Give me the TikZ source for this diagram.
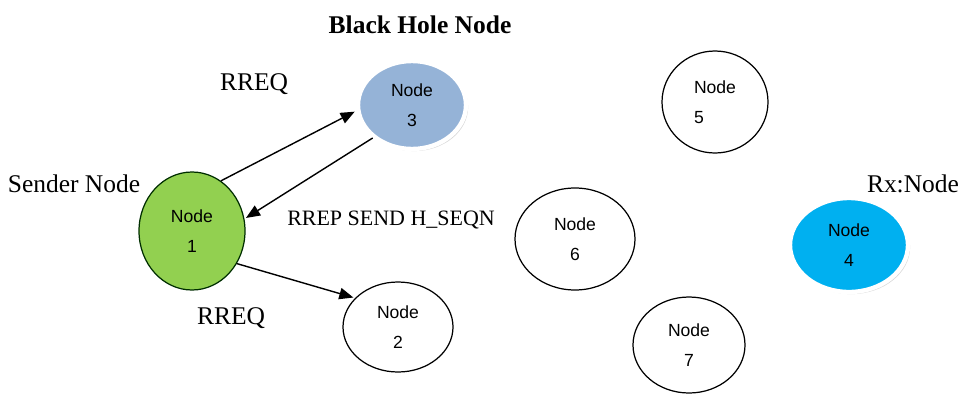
\documentclass[tikz,border=0pt]{standalone}
\usepackage{fontspec}
\setmainfont{Liberation Serif}
\newfontfamily\nodefont{Liberation Sans}
\usetikzlibrary{shapes.geometric,arrows.meta,shadows}
\definecolor{sendgreen}{HTML}{92D050}
\definecolor{holeblue}{HTML}{95B3D7}
\definecolor{rxblue}{HTML}{00B0F0}
\begin{document}
\begin{tikzpicture}[
	host/.style={ellipse,draw=black,line width=0.7pt,inner sep=0pt,align=center,
		font=\nodefont\fontsize{10}{17}\selectfont},
	glow/.style={draw=white,line width=2.5pt,
		drop shadow={shadow xshift=1.2pt,shadow yshift=-1.2pt,fill=black!30}},
	tag/.style={font=\fontsize{14.5}{16}\selectfont},
	msg/.style={-{Triangle[length=8pt,width=6.5pt]},line width=0.8pt,shorten >=1pt}
	]
	\useasboundingbox (0,0) rectangle (19.26,7.9);
		\node[host,fill=sendgreen,draw=black!70!green!60!black,minimum width=2.12cm,minimum height=2.36cm](n1) at (3.84,3.28){Node\\1};
		\node[host,glow,fill=holeblue,minimum width=2.16cm,minimum height=1.76cm](n3) at (8.24,5.80){Node\\3};
		\node[host,minimum width=2.2cm,minimum height=1.8cm](n2) at (7.96,1.36){Node\\2};
		\node[host,align=left,minimum width=2.12cm,minimum height=2.04cm](n5) at (14.30,5.86){Node\\5};
		\node[host,minimum width=2.4cm,minimum height=2.04cm](n6) at (11.50,3.12){Node\\6};
		\node[host,glow,fill=rxblue,minimum width=2.36cm,minimum height=1.88cm](n4) at (16.98,3.00){Node\\4};
		\node[host,minimum width=2.24cm,minimum height=1.92cm](n7) at (13.78,1.00){Node\\7};
		% captions and message names
		\node[tag,font=\bfseries\fontsize{14.5}{16}\selectfont](hole) at (8.40,7.40){Black Hole Node};
		\node[tag](sender) at (1.48,4.22){Sender Node};
		\node[tag](rx) at (18.26,4.22){Rx:Node};
		\node[tag](req1) at (5.08,6.22){RREQ};
		\node[tag](req2) at (4.62,1.54){RREQ};
		\node[tag,font=\fontsize{12.5}{14}\selectfont](rep) at (7.82,3.50){RREP SEND H\_SEQN};
		% route request and the forged reply
		\draw[msg] (n1.60)--(n3.186);
		\draw[msg] (n3.220)--(n1.13);
		\draw[msg] (n1.-36)--(n2.146);
	\end{tikzpicture}
\end{document}
